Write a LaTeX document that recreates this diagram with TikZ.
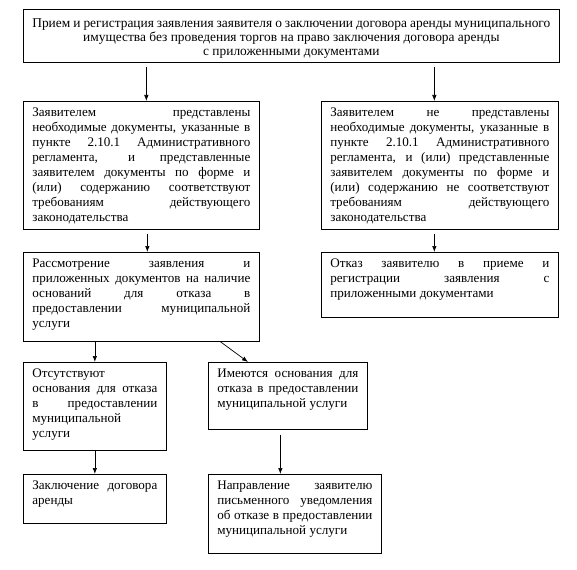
\documentclass[tikz,border=0pt]{standalone}
\usepackage{fontspec}
\setmainfont{Liberation Serif}
\usepackage{tikz}
\usetikzlibrary{arrows.meta, positioning, calc}

\newcommand{\blocktext}[3]{\parbox[t][#2][t]{#1}{\rule{0pt}{15.5pt}#3}}

\tikzset{
    blok/.style={draw, line width=0.7pt, inner xsep=9pt, inner ysep=0pt, anchor=north west,
        font=\fontsize{13.1}{15}\selectfont},
    >={Latex[length=6pt, width=4.5pt]}
}

\begin{document}
\begin{tikzpicture}[x=1pt, y=-1pt, line width=0.7pt]
    \useasboundingbox (0, 0) rectangle (577, 569);
    \node[blok, font=\fontsize{13.4}{14}\selectfont] (priem) at (23, 9) {\parbox[t][53pt][t]{518pt}{\centering\rule{0pt}{18pt}Прием и регистрация заявления заявителя о заключении договора аренды муниципального\\ имущества без проведения торгов на право заключения договора аренды\\ с приложенными документами}};
    \node[blok] (predst) at (23, 101) {\blocktext{218pt}{128pt}{Заявителем представлены\linebreak необходимые документы, указанные в\linebreak пункте 2.10.1 Административного\linebreak регламента, и представленные\linebreak заявителем документы по форме и\linebreak (или) содержанию соответствуют\linebreak требованиям действующего\linebreak законодательства}};
    \node[blok] (nepredst) at (321, 101) {\blocktext{219pt}{128pt}{Заявителем не представлены\linebreak необходимые документы, указанные в\linebreak пункте 2.10.1 Административного\linebreak регламента, и (или) представленные\linebreak заявителем документы по форме и\linebreak (или) содержанию не соответствуют\linebreak требованиям действующего\linebreak законодательства}};
    \node[blok] (rassm) at (23, 252) {\blocktext{218pt}{89pt}{Рассмотрение заявления и\linebreak приложенных документов на наличие\linebreak оснований для отказа в\linebreak предоставлении муниципальной\linebreak услуги}};
    \node[blok] (otkaz) at (321, 252) {\blocktext{219pt}{65pt}{Отказ заявителю в приеме и\linebreak регистрации заявления с\linebreak приложенными документами}};
    \node[blok] (otsut) at (23, 362) {\blocktext{125pt}{88pt}{Отсутствуют\\ основания для отказа\linebreak в предоставлении\linebreak муниципальной\\ услуги}};
    \node[blok] (imeyut) at (208, 362) {\blocktext{141pt}{67pt}{Имеются основания для\linebreak отказа в предоставлении\linebreak муниципальной услуги}};
    \node[blok] (dogovor) at (23, 474) {\blocktext{125pt}{49pt}{Заключение договора\linebreak аренды}};
    \node[blok] (uved) at (208, 474) {\blocktext{155pt}{79pt}{Направление заявителю\linebreak письменного уведомления\linebreak об отказе в предоставлении\linebreak муниципальной услуги}};
    \draw
    ([xshift=5pt]predst.north |- priem.south) edge[->, shorten <=4pt] ([xshift=5pt]predst.north)
    ([xshift=-5.5pt]nepredst.north |- priem.south) edge[->, shorten <=4pt] ([xshift=-5.5pt]nepredst.north)
    ([xshift=6pt]predst.south) edge[->, shorten <=4pt] ([xshift=6pt]rassm.north)
    ([xshift=-5.5pt]nepredst.south) edge[->, shorten <=4pt] ([xshift=-5.5pt]otkaz.north)
    (rassm.south -| otsut.north) edge[->] (otsut.north)
    ([xshift=79pt]rassm.south) edge[->] ([xshift=40pt]imeyut.north west)
    (otsut.south) edge[->] (dogovor.north)
    ([xshift=-7.5pt]imeyut.south) edge[->, shorten <=5pt] ([xshift=-7.5pt]imeyut.south |- uved.north);
\end{tikzpicture}
\end{document}
